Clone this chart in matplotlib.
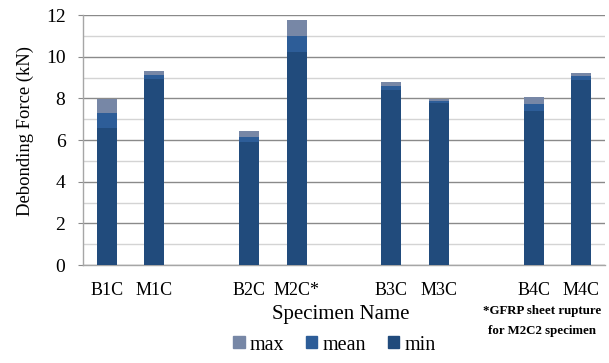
import numpy as np
import matplotlib
matplotlib.use("Agg")
import matplotlib.pyplot as plt
from matplotlib.patches import Patch

# specimen slots (empty strings are the gaps between pairs)
labels = ["B1C", "M1C", "", "B2C", "M2C*", "", "B3C", "M3C", "", "B4C", "M4C"]
f_max = [7.97, 9.31, np.nan, 6.43, 11.76, np.nan, 8.78, 7.97, np.nan, 8.06, 9.22]
f_mean = [7.30, 9.12, np.nan, 6.14, 10.99, np.nan, 8.59, 7.87, np.nan, 7.73, 9.07]
f_min = [6.58, 8.93, np.nan, 5.90, 10.22, np.nan, 8.40, 7.78, np.nan, 7.39, 8.88]

C_MAX = "#7787a6"
C_MEAN = "#2d5d98"
C_MIN = "#214b7c"
SERIF = ["Liberation Serif", "DejaVu Serif"]

plt.rcParams["font.family"] = SERIF

W, H = 609, 363
fig = plt.figure(figsize=(W / 100, H / 100), dpi=100)
ax = fig.add_axes([83 / W, 1 - 265 / H, (605 - 83) / W, 250 / H])

x = np.arange(len(labels))
w = 0.42
# overlapping bars: max behind mean behind min
ax.bar(x, f_max, width=w, color=C_MAX, zorder=3)
ax.bar(x, f_mean, width=w, color=C_MEAN, zorder=4)
ax.bar(x, f_min, width=w, color=C_MIN, zorder=5)

ax.set_xlim(-0.5, len(labels) - 0.5)
ax.set_ylim(0, 12)
ax.set_yticks(np.arange(0, 13, 2))
ax.set_yticks(np.arange(1, 12, 2), minor=True)
ax.grid(axis="y", which="major", color="#8a8a8a", lw=1.0, zorder=0)
ax.grid(axis="y", which="minor", color="#d4d4d4", lw=1.0, zorder=0)
ax.set_axisbelow(True)

ax.set_xticks(x)
ax.set_xticklabels(labels, fontsize=13)
ax.tick_params(axis="x", length=0, pad=12.5)
ax.tick_params(axis="y", which="major", length=3.6, color="#8a8a8a",
               labelsize=14, pad=9)
ax.tick_params(axis="y", which="minor", length=0)

for sp in ("top", "right"):
    ax.spines[sp].set_visible(False)
for sp in ("left", "bottom"):
    ax.spines[sp].set_color("#a6a6a6")
    ax.spines[sp].set_linewidth(1.0)

fig.text(25 / W, 1 - 131 / H, "Debonding Force (kN)", rotation=90,
         ha="center", va="center", fontsize=13.4)
fig.text(340.5 / W, 1 - 315 / H, "Specimen Name", ha="center", va="center",
         fontsize=15)

fig.text(542 / W, 1 - 311 / H, "*GFRP sheet rupture", ha="center", va="center",
         fontsize=9.3, weight="bold")
fig.text(542 / W, 1 - 331 / H, "for M2C2 specimen", ha="center", va="center",
         fontsize=9.3, weight="bold")

handles = [Patch(color=C_MAX), Patch(color=C_MEAN), Patch(color=C_MIN)]
fig.legend(handles, ["max", "mean", "min"], loc="center",
           bbox_to_anchor=(334.5 / W, 1 - 345 / H), ncol=3, frameon=False,
           fontsize=14.5, handlelength=0.55, handleheight=0.55,
           handletextpad=0.25, columnspacing=1.1, borderpad=0)

fig.savefig("out.png", dpi=100)
